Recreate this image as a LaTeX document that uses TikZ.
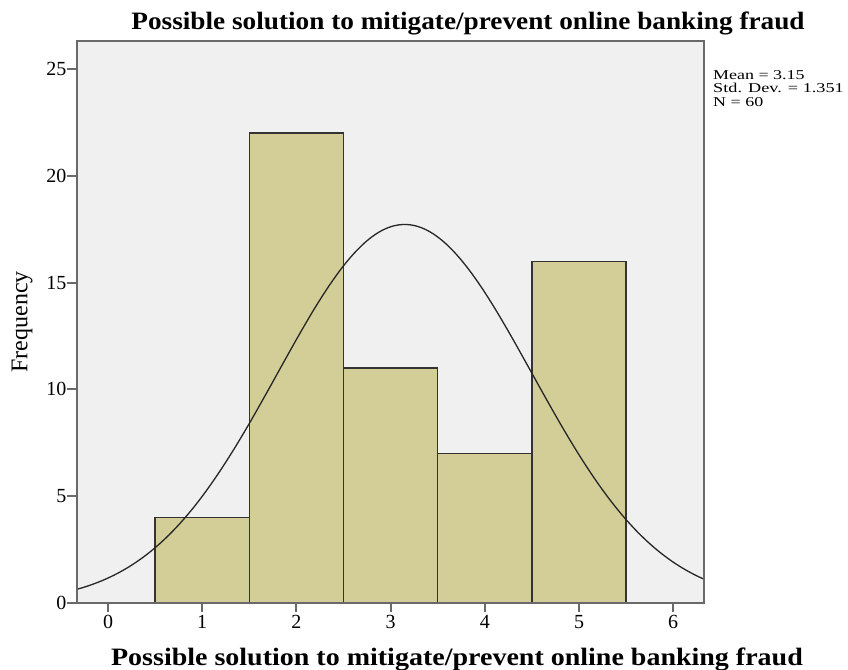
\documentclass[tikz,border=0pt]{standalone}
\usepackage{fontspec}
\setmainfont{Liberation Serif}
\definecolor{plotbg}{RGB}{240,240,240}
\definecolor{barfill}{RGB}{211,206,151}
\definecolor{framegray}{RGB}{105,105,105}
\begin{document}
\begin{tikzpicture}[x=1pt,y=1pt,
  bar/.style={draw=black!80,line width=1.3pt,fill=barfill},
  ticklab/.style={font=\fontsize{20}{20}\selectfont,inner sep=0pt},
  tickmark/.style={draw=framegray,line width=2pt},
  titletext/.style={font=\bfseries\fontsize{25}{25}\selectfont,inner sep=0pt},
  statline/.style={anchor=base west,inner sep=0pt,font=\fontsize{13.5}{13.5}\selectfont}]
\useasboundingbox (0,0) rectangle (848,669);
\fill[white] (0,0) rectangle (848,669);
\begin{scope}[shift={(108,66)},x=94.2pt,y=21.36pt]
  \fill[plotbg] (-0.329,0) rectangle (6.327,26.31);
  \foreach \v/\f in {1/4,2/22,3/11,4/7,5/16}
    \draw[bar] (\v-0.5,0) rectangle (\v+0.5,\f);
  \draw[black!85,line width=1.3pt,domain=-0.329:6.327,samples=120,smooth]
    plot (\x,{17.718*exp(-((\x-3.15)^2)/(2*1.351^2))});
  \draw[framegray,line width=2.2pt] (-0.329,0) rectangle (6.327,26.31);
  \foreach \f in {0,5,...,25}{
    \draw[tickmark] (-0.329,\f) -- (-0.43,\f);
    \node[ticklab,anchor=east] (yl\f) at (-0.44,\f) {\f};
  }
  \foreach \v in {0,...,6}{
    \draw[tickmark] (\v,0) -- (\v,-0.43);
    \node[ticklab,anchor=north] (xl\v) at (\v,-0.58) {\v};
  }
\end{scope}
\node[titletext,anchor=base] (title) at (468,639) {\scalebox{1.09}[1]{Possible solution to mitigate/prevent online banking fraud}};
\node[titletext,anchor=base] (xlabel) at (457,4) {\scalebox{1.12}[1]{Possible solution to mitigate/prevent online banking fraud}};
\node[font=\fontsize{24}{24}\selectfont,rotate=90,inner sep=0pt] (ylabel) at (22,347) {Frequency};
\node[statline] (mean) at (713,589.5) {\scalebox{1.33}[1]{Mean = 3.15}};
\node[statline] (sd) at (713,576) {\scalebox{1.35}[1]{Std. Dev. = 1.351}};
\node[statline] (n) at (713,562.5) {\scalebox{1.33}[1]{N = 60}};
\end{tikzpicture}
\end{document}
